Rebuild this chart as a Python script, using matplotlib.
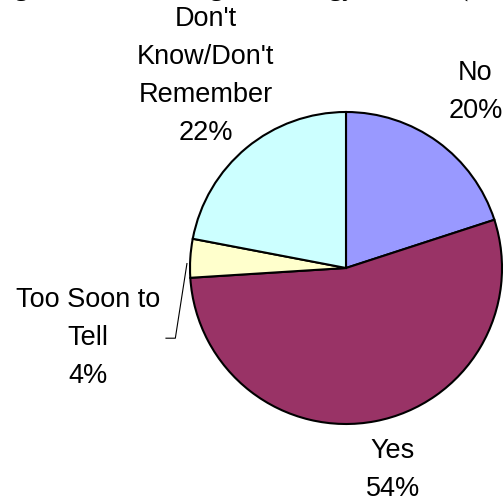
import numpy as np
import matplotlib
matplotlib.use("Agg")
import matplotlib.pyplot as plt

# data
categories = ["No", "Yes", "Too Soon to\nTell", "Don't\nKnow/Don't\nRemember"]
percents = [20, 54, 4, 22]
colors = ["#9999FF", "#993366", "#FFFFCC", "#CCFFFF"]
title = "Figure 6: Staff Using Technology at Work (2004)"

# label block centres (data units, pie radius = 1)
label_pos = [(0.83, 1.135), (0.30, -1.29), (-1.654, -0.44), (-0.90, 1.24)]

fig = plt.figure(figsize=(5.04, 5.02), dpi=100)
ax = fig.add_axes([0, 0, 1, 1])

wedges, _ = ax.pie(
    percents, colors=colors, startangle=90, counterclock=False,
    wedgeprops=dict(edgecolor="black", linewidth=1.5),
)

for (x, y), cat, pct in zip(label_pos, categories, percents):
    ax.text(x, y, f"{cat}\n{pct}%", ha="center", va="center",
            fontsize=19.5, family="Liberation Sans", linespacing=1.6,
            multialignment="center")

# leader line for the small slice
w = wedges[2]
mid = np.deg2rad((w.theta1 + w.theta2) / 2 + 2)
ex, ey = 1.02 * np.cos(mid), 1.02 * np.sin(mid)
lx, ly = label_pos[2]
ax.plot([lx + 0.5, lx + 0.56, ex], [ly - 0.01, ly - 0.01, ey],
        color="black", linewidth=0.8)

# place pie centre at (346, 269) px with radius 156 px
ax.set_xlim(-346 / 156, (504 - 346) / 156)
ax.set_ylim((269 - 502) / 156, 269 / 156)
ax.set_aspect("auto")
ax.axis("off")

# title sits above the top edge; only its descenders show
fig.text(-8 / 504, 1 + 4 / 502, title, ha="left", va="baseline",
         fontsize=18.7, family="Liberation Serif", fontweight="bold")

fig.savefig("out.png", dpi=100)
